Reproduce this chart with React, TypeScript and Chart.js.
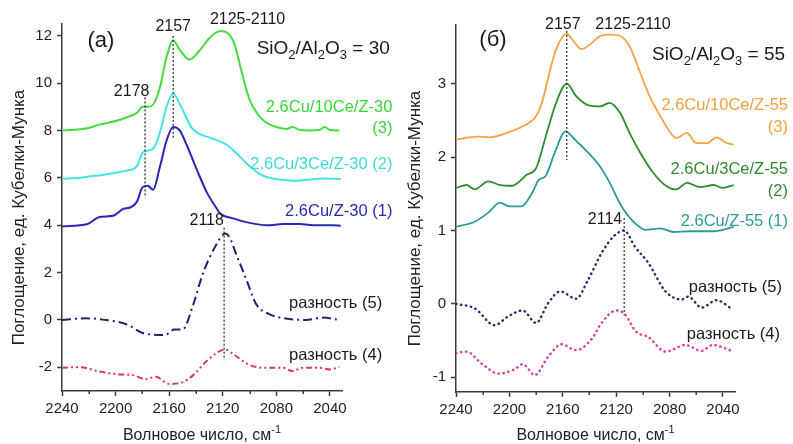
import React, { useEffect, useRef } from "react";
import { Chart, registerables } from "chart.js";
Chart.register(...registerables);

const FONT = "'Liberation Sans', Arial, sans-serif";

// ---------- Panel (a): SiO2/Al2O3 = 30 ----------
const aWn3 = [2240, 2221, 2212, 2200, 2192, 2184, 2180, 2176, 2172, 2167, 2162, 2157, 2152, 2145, 2137, 2130, 2122, 2116, 2111, 2106, 2100, 2094, 2088, 2080, 2072, 2068, 2062, 2055, 2048, 2044, 2040, 2033];
const aAbs3 = [8.0, 8.1, 8.25, 8.4, 8.55, 8.75, 9.0, 9.0, 9.1, 9.8, 11.1, 11.8, 11.4, 11.0, 11.4, 11.9, 12.2, 12.1, 11.6, 10.5, 9.3, 8.7, 8.35, 8.15, 8.07, 8.15, 8.02, 8.0, 8.02, 8.15, 8.02, 8.0];
const aWn2 = [2240, 2228, 2221, 2210, 2202, 2192, 2184, 2180, 2176, 2171, 2166, 2162, 2157, 2151, 2143, 2137, 2127, 2117, 2110, 2102, 2092, 2085, 2075, 2068, 2058, 2045, 2032];
const aAbs2 = [5.96, 6.0, 6.05, 6.12, 6.2, 6.3, 6.5, 7.05, 7.15, 7.3, 8.1, 9.0, 9.55, 9.0, 8.1, 7.85, 7.65, 7.4, 7.05, 6.6, 6.15, 6.0, 5.92, 5.88, 5.92, 5.98, 5.95];
const aWn1 = [2240, 2221, 2212, 2202, 2194, 2189, 2184, 2180, 2176, 2172, 2167, 2162, 2157, 2152, 2147, 2139, 2132, 2125, 2122, 2113, 2100, 2087, 2075, 2063, 2050, 2038, 2032];
const aAbs1 = [3.95, 4.05, 4.35, 4.4, 4.7, 4.75, 5.0, 5.6, 5.67, 5.5, 6.45, 7.57, 8.15, 8.0, 7.4, 6.3, 5.4, 4.75, 4.5, 4.3, 4.1, 4.0, 4.05, 4.05, 4.0, 4.0, 3.98];
const aWn5 = [2240, 2222, 2207, 2192, 2178, 2163, 2156, 2150, 2142, 2135, 2126, 2118, 2115, 2110, 2102, 2095, 2085, 2073, 2058, 2045, 2033];
const aAbs5 = [0.0, 0.07, 0.0, -0.18, -0.58, -0.63, -0.4, -0.4, 0.66, 1.93, 3.06, 3.65, 3.5, 2.78, 1.65, 0.66, 0.24, 0.06, 0.0, 0.1, 0.0];
const aWn4 = [2240, 2227, 2212, 2197, 2187, 2178, 2170, 2160, 2151, 2142, 2132, 2118, 2112, 2100, 2088, 2075, 2068, 2060, 2048, 2040, 2033];
const aAbs4 = [-2.02, -1.99, -2.18, -2.3, -2.33, -2.5, -2.4, -2.7, -2.65, -2.33, -1.73, -1.25, -1.45, -1.9, -2.02, -2.02, -2.16, -2.02, -2.02, -2.09, -1.99];

// ---------- Panel (б): SiO2/Al2O3 = 55 ----------
const bWn3 = [2240, 2224, 2214, 2202, 2190, 2180, 2175, 2170, 2165, 2157, 2152, 2146, 2140, 2132, 2125, 2117, 2110, 2102, 2095, 2087, 2080, 2075, 2067, 2060, 2052, 2045, 2037, 2032];
const bAbs3 = [2.24, 2.28, 2.27, 2.33, 2.42, 2.56, 2.78, 3.15, 3.47, 3.68, 3.58, 3.47, 3.53, 3.65, 3.67, 3.65, 3.51, 3.15, 2.83, 2.56, 2.35, 2.26, 2.33, 2.19, 2.19, 2.27, 2.19, 2.17];
const bWn2 = [2240, 2232, 2226, 2216, 2207, 2198, 2187, 2180, 2172, 2165, 2157, 2150, 2140, 2132, 2125, 2117, 2110, 2102, 2092, 2082, 2075, 2067, 2057, 2047, 2040, 2032];
const bAbs2 = [1.58, 1.62, 1.56, 1.67, 1.62, 1.61, 1.76, 1.85, 2.33, 2.74, 3.0, 2.83, 2.7, 2.69, 2.74, 2.6, 2.33, 2.06, 1.78, 1.6, 1.56, 1.65, 1.59, 1.62, 1.58, 1.62];
const bWn1 = [2240, 2226, 2216, 2207, 2200, 2191, 2183, 2178, 2173, 2166, 2158, 2151, 2141, 2132, 2126, 2116, 2106, 2098, 2087, 2077, 2065, 2047, 2032];
const bAbs1 = [1.05, 1.12, 1.24, 1.38, 1.33, 1.33, 1.51, 1.69, 1.74, 2.06, 2.35, 2.24, 2.06, 1.87, 1.69, 1.33, 1.1, 1.01, 1.03, 0.98, 0.99, 0.99, 1.05];
const bWn5 = [2240, 2226, 2211, 2201, 2190, 2180, 2171, 2162, 2150, 2141, 2131, 2122, 2114, 2106, 2096, 2083, 2071, 2066, 2056, 2045, 2033];
const bAbs5 = [0.0, -0.06, -0.29, -0.17, -0.09, -0.26, 0.01, 0.17, 0.07, 0.33, 0.69, 0.92, 1.0, 0.78, 0.56, 0.17, 0.06, 0.1, -0.05, 0.05, -0.07];
const bWn4 = [2240, 2232, 2221, 2208, 2196, 2190, 2181, 2171, 2161, 2150, 2138, 2131, 2120, 2114, 2105, 2096, 2083, 2068, 2056, 2048, 2033];
const bAbs4 = [-0.67, -0.65, -0.81, -0.95, -0.89, -0.82, -0.97, -0.72, -0.55, -0.63, -0.47, -0.26, -0.09, -0.13, -0.38, -0.45, -0.65, -0.56, -0.64, -0.56, -0.64];

// ---------- Axis ticks ----------
const xMajorTicks = [2240, 2200, 2160, 2120, 2080, 2040];
const xMinorTicks = [2220, 2180, 2140, 2100, 2060];
const aYTicks = [-2, 0, 2, 4, 6, 8, 10, 12];
const bYTicks = [-1, 0, 1, 2, 3];

type Seg = [string, number]; // text, 0 normal / 1 subscript / -1 superscript
type Ann = { segs: Seg[]; wn: number; v: number; align: "left" | "center" | "right"; color: string; size: number };
type VLine = { wn: number; v0: number; v1: number };

const AXIS_COLOR = "#3c3c3c";
const pts = (xs: number[], ys: number[]) => xs.map((x, i) => ({ x, y: ys[i] }));

function drawSegs(ctx: CanvasRenderingContext2D, segs: Seg[], x: number, y: number, size: number, align: string) {
  const subSize = Math.round(size * 0.68);
  let total = 0;
  const widths = segs.map(([t, k]) => {
    ctx.font = `${k === 0 ? size : subSize}px ${FONT}`;
    const w = ctx.measureText(t).width;
    total += w;
    return w;
  });
  let cx = align === "left" ? x : align === "right" ? x - total : x - total / 2;
  ctx.textAlign = "left";
  ctx.textBaseline = "middle";
  segs.forEach(([t, k], i) => {
    ctx.font = `${k === 0 ? size : subSize}px ${FONT}`;
    const dy = k === 1 ? size * 0.35 : k === -1 ? -size * 0.4 : 0;
    ctx.fillText(t, cx, y + dy);
    cx += widths[i];
  });
}

function makePlugin(anns: Ann[], vlines: VLine[], yTitleX: number) {
  return {
    id: "annot",
    afterDraw(chart: any) {
      const { ctx, scales, chartArea } = chart;
      const xs = scales.x, ys = scales.y;
      ctx.save();
      // minor x ticks
      ctx.strokeStyle = AXIS_COLOR;
      ctx.lineWidth = 1.5;
      xMinorTicks.forEach((t) => {
        const px = Math.round(xs.getPixelForValue(t)) + 0.25;
        ctx.beginPath();
        ctx.moveTo(px, chartArea.bottom);
        ctx.lineTo(px, chartArea.bottom + 3);
        ctx.stroke();
      });
      // dotted guide lines
      ctx.strokeStyle = "#222";
      ctx.lineWidth = 1.2;
      ctx.setLineDash([2, 2]);
      vlines.forEach((l) => {
        const px = xs.getPixelForValue(l.wn);
        ctx.beginPath();
        ctx.moveTo(px, ys.getPixelForValue(l.v0));
        ctx.lineTo(px, ys.getPixelForValue(l.v1));
        ctx.stroke();
      });
      ctx.setLineDash([]);
      anns.forEach((a) => {
        ctx.fillStyle = a.color;
        drawSegs(ctx, a.segs, xs.getPixelForValue(a.wn), ys.getPixelForValue(a.v), a.size, a.align);
      });
      // axis titles
      ctx.fillStyle = "#222";
      const cxm = (chartArea.left + chartArea.right) / 2;
      drawSegs(ctx, [["Волновое число, см", 0], ["-1", -1]], cxm, chart.height - 8, 16, "center");
      ctx.save();
      ctx.translate(yTitleX, (chartArea.top + chartArea.bottom) / 2 + 10);
      ctx.rotate(-Math.PI / 2);
      drawSegs(ctx, [["Поглощение, ед. Кубелки-Мунка", 0]], 0, 0, 17, "center");
      ctx.restore();
      ctx.restore();
    },
  };
}

function makeConfig(opts: {
  datasets: any[];
  yMin: number; yMax: number; yTicks: number[];
  pad: any; yW: number; xH: number;
  anns: Ann[]; vlines: VLine[]; yTitleX: number;
}) {
  return {
    type: "line",
    data: { datasets: opts.datasets },
    options: {
      animation: false,
      responsive: false,
      devicePixelRatio: 1,
      layout: { padding: opts.pad },
      plugins: { legend: { display: false }, tooltip: { enabled: false } },
      elements: { point: { radius: 0 } },
      scales: {
        x: {
          type: "linear", reverse: true, min: 2031, max: 2240, bounds: "data",
          afterFit: (s: any) => { s.height = opts.xH; },
          afterBuildTicks: (s: any) => { s.ticks = xMajorTicks.map((value) => ({ value })); },
          border: { display: true, color: AXIS_COLOR, width: 1.5 },
          grid: { drawOnChartArea: false, drawTicks: true, tickLength: 5, color: AXIS_COLOR, tickWidth: 1.5 },
          ticks: {
            autoSkip: false, maxRotation: 0, padding: 4,
            color: "#222", font: { family: FONT, size: 15 },
            callback: (v: number) => String(v),
          },
        },
        y: {
          type: "linear", min: opts.yMin, max: opts.yMax, bounds: "data",
          afterFit: (s: any) => { s.width = opts.yW; },
          afterBuildTicks: (s: any) => { s.ticks = opts.yTicks.map((value) => ({ value })); },
          border: { display: true, color: AXIS_COLOR, width: 1.5 },
          grid: { drawOnChartArea: false, drawTicks: true, tickLength: 5, color: AXIS_COLOR, tickWidth: 1.5 },
          ticks: {
            autoSkip: false, padding: 5,
            color: "#222", font: { family: FONT, size: 15 },
            callback: (v: number) => String(v),
          },
        },
      },
    },
    plugins: [makePlugin(opts.anns, opts.vlines, opts.yTitleX)],
  } as any;
}

const line = (data: any, color: string, width: number, dash: number[] = [], cap = "butt") => ({
  data, borderColor: color, borderWidth: width, borderDash: dash, borderCapStyle: cap,
  cubicInterpolationMode: "monotone", fill: false, pointRadius: 0,
});

const black = "#1a1a1a";

const aAnns: Ann[] = [
  { segs: [["(a)", 0]], wn: 2211, v: 11.8, align: "center", color: black, size: 22 },
  { segs: [["2157", 0]], wn: 2157, v: 12.4, align: "center", color: black, size: 16 },
  { segs: [["2125-2110", 0]], wn: 2101.5, v: 12.7, align: "center", color: black, size: 16 },
  { segs: [["SiO", 0], ["2", 1], ["/Al", 0], ["2", 1], ["O", 0], ["3", 1], [" = 30", 0]], wn: 2094.7, v: 11.46, align: "left", color: black, size: 19 },
  { segs: [["2178", 0]], wn: 2188, v: 9.64, align: "center", color: black, size: 16 },
  { segs: [["2.6Cu/10Ce/Z-30", 0]], wn: 1993.4, v: 8.96, align: "right", color: "#3ad43a", size: 16.5 },
  { segs: [["(3)", 0]], wn: 1993.4, v: 8.08, align: "right", color: "#3ad43a", size: 16.5 },
  { segs: [["2.6Cu/3Ce/Z-30 (2)", 0]], wn: 1993.4, v: 6.55, align: "right", color: "#3cdada", size: 16.5 },
  { segs: [["2.6Cu/Z-30 (1)", 0]], wn: 1993.4, v: 4.57, align: "right", color: "#2a2ab0", size: 16.5 },
  { segs: [["2118", 0]], wn: 2132, v: 4.19, align: "center", color: black, size: 16 },
  { segs: [["разность (5)", 0]], wn: 2001, v: 0.68, align: "right", color: black, size: 16.5 },
  { segs: [["разность (4)", 0]], wn: 2001, v: -1.48, align: "right", color: black, size: 16.5 },
];
const aVlines: VLine[] = [
  { wn: 2178, v0: 9.4, v1: 5.15 },
  { wn: 2157, v0: 12.0, v1: 7.7 },
  { wn: 2119, v0: 3.9, v1: -1.7 },
];

const bAnns: Ann[] = [
  { segs: [["(б)", 0]], wn: 2212.3, v: 3.6, align: "center", color: black, size: 22 },
  { segs: [["2157", 0]], wn: 2160, v: 3.81, align: "center", color: black, size: 16 },
  { segs: [["2125-2110", 0]], wn: 2107.4, v: 3.81, align: "center", color: black, size: 16 },
  { segs: [["SiO", 0], ["2", 1], ["/Al", 0], ["2", 1], ["O", 0], ["3", 1], [" = 55", 0]], wn: 2093.2, v: 3.4, align: "left", color: black, size: 19 },
  { segs: [["2.6Cu/10Ce/Z-55", 0]], wn: 1991.3, v: 2.7, align: "right", color: "#f0a040", size: 16.5 },
  { segs: [["(3)", 0]], wn: 1991.3, v: 2.4, align: "right", color: "#f0a040", size: 16.5 },
  { segs: [["2.6Cu/3Ce/Z-55", 0]], wn: 1991.3, v: 1.83, align: "right", color: "#2e8a2e", size: 16.5 },
  { segs: [["(2)", 0]], wn: 1991.3, v: 1.53, align: "right", color: "#2e8a2e", size: 16.5 },
  { segs: [["2.6Cu/Z-55 (1)", 0]], wn: 1991.3, v: 1.13, align: "right", color: "#2e9a98", size: 16.5 },
  { segs: [["2114", 0]], wn: 2128.4, v: 1.15, align: "center", color: black, size: 16 },
  { segs: [["разность (5)", 0]], wn: 1995.8, v: 0.23, align: "right", color: black, size: 16.5 },
  { segs: [["разность (4)", 0]], wn: 1997.3, v: -0.42, align: "right", color: black, size: 16.5 },
];
const bVlines: VLine[] = [
  { wn: 2157, v0: 3.72, v1: 1.96 },
  { wn: 2114, v0: 1.17, v1: -0.15 },
];

export default function App() {
  const aRef = useRef<HTMLCanvasElement>(null);
  const bRef = useRef<HTMLCanvasElement>(null);

  useEffect(() => {
    const ca = new Chart(aRef.current!, makeConfig({
      datasets: [
        line(pts(aWn3, aAbs3), "#44dd3c", 2),
        line(pts(aWn2, aAbs2), "#44e4e4", 2),
        line(pts(aWn1, aAbs1), "#2828b8", 2),
        line(pts(aWn5, aAbs5), "#1f2466", 2, [9, 4, 2, 4]),
        line(pts(aWn4, aAbs4), "#e0307a", 2, [6, 3, 2, 3, 2, 3]),
      ],
      yMin: -3, yMax: 12.5, yTicks: aYTicks,
      pad: { left: 0, right: 58, top: 24, bottom: 0 }, yW: 62, xH: 53,
      anns: aAnns, vlines: aVlines, yTitleX: 19,
    }));
    const cb = new Chart(bRef.current!, makeConfig({
      datasets: [
        line(pts(bWn3, bAbs3), "#f4a442", 1.8),
        line(pts(bWn2, bAbs2), "#2e8c2e", 1.8),
        line(pts(bWn1, bAbs1), "#2e9a98", 1.8),
        line(pts(bWn5, bAbs5), "#2a2c70", 2.4, [0.5, 4.5], "round"),
        line(pts(bWn4, bAbs4), "#d444a0", 2.4, [0.5, 4.5], "round"),
      ],
      yMin: -1.2, yMax: 3.8, yTicks: bYTicks,
      pad: { left: 0, right: 58, top: 25, bottom: 0 }, yW: 56, xH: 52,
      anns: bAnns, vlines: bVlines, yTitleX: 15,
    }));
    return () => { ca.destroy(); cb.destroy(); };
  }, []);

  return (
    <div style={{ position: "absolute", left: 0, top: 0, width: 793, height: 444, background: "#fff" }}>
      <canvas ref={aRef} width={400} height={444} style={{ position: "absolute", left: 0, top: 0 }} />
      <canvas ref={bRef} width={393} height={444} style={{ position: "absolute", left: 400, top: 0 }} />
    </div>
  );
}
